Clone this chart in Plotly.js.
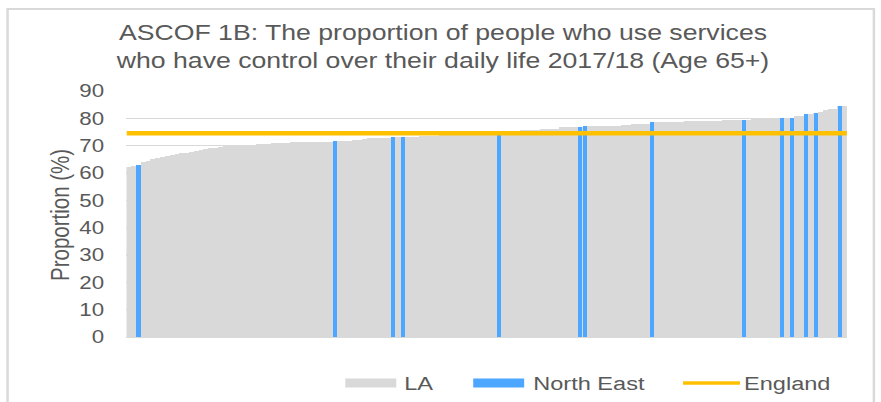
<!DOCTYPE html>
<html>
<head>
<meta charset="utf-8">
<script src="https://cdn.plot.ly/plotly-3.0.1.min.js"></script>
<style>
  html, body { margin: 0; padding: 0; background: #ffffff; overflow: hidden; }
  #chart { transform-origin: 0 0; }
</style>
</head>
<body>
<div id="chart"></div>
<script>
// Local authority results, sorted ascending (%)
const laValues = [
  62.3, 62.5, 63.1, 63.9, 64.5, 65.1, 65.5, 65.9, 66.2, 66.5,
  66.8, 67.2, 67.5, 67.8, 68.1, 68.4, 68.7, 69.0, 69.3, 69.6,
  70.0, 70.2, 70.2, 70.3, 70.3, 70.4, 70.4, 70.5, 70.5, 70.6,
  70.8, 70.9, 71.0, 71.1, 71.2, 71.2, 71.3, 71.3, 71.3, 71.4,
  71.4, 71.4, 71.5, 71.7, 71.7, 71.7, 71.7, 71.9, 72.2, 72.5,
  72.9, 72.9, 72.9, 72.9, 72.9, 73.0, 73.0, 73.0, 73.2, 73.3,
  73.3, 73.4, 73.5, 73.6, 73.7, 73.8, 73.8, 73.9, 74.0, 74.0,
  74.1, 74.2, 74.2, 74.3, 74.3, 74.4, 74.4, 74.5, 74.6, 74.7,
  74.9, 75.2, 75.7, 75.7, 75.7, 75.8, 76.2, 76.2, 76.2, 76.2,
  76.8, 76.8, 76.8, 76.9, 77.0, 77.2, 77.2, 77.2, 77.2, 77.2,
  77.2, 77.2, 77.2, 77.5, 77.5, 77.9, 77.9, 77.9, 78.0, 78.5,
  78.5, 78.7, 78.7, 78.7, 78.7, 78.7, 78.9, 78.9, 78.9, 78.9,
  78.9, 78.9, 78.9, 78.9, 79.4, 79.4, 79.4, 79.4, 79.4, 79.4,
  80.2, 80.2, 80.2, 80.2, 80.2, 80.2, 80.3, 80.3, 80.3, 81.0,
  81.0, 81.7, 81.7, 82.0, 82.5, 83.0, 83.5, 83.5, 84.5, 84.5
];

// Positions (in the sorted list) of the North East authorities
const northEastIdx = [2, 43, 55, 57, 77, 94, 95, 109, 128, 136, 138, 141, 143, 148];

// England average (%)
const englandValue = 74.5;

const seriesNames = ['LA', 'North East', 'England'];
const yTickVals = [0, 10, 20, 30, 40, 50, 60, 70, 80, 90];

const laX = laValues.map((v, i) => i);
const neY = laValues.map((v, i) => northEastIdx.includes(i) ? v : null);

const GREY = '#D9D9D9';
const BLUE = '#4DA6FF';
const GOLD = '#FFC000';
const TEXT = '#595959';
const FONT = 'Liberation Sans, Arial, sans-serif';

// The figure is laid out narrower and widened with a horizontal scale,
// giving the broad lettering of the printed chart.
const S = 1.24;
const W = 881, H = 402;
const chartDiv = document.getElementById('chart');
chartDiv.style.width = (W / S) + 'px';
chartDiv.style.height = H + 'px';
chartDiv.style.transform = 'scaleX(' + S + ')';

// Plot-area edges on the final (widened) page, in pixels
const L = 127, R = 848, T = 91, B = 337;
const px2x = p => (p - L) / (R - L);
const px2y = p => (B - p) / (B - T);

const traces = [
  { type: 'bar', name: seriesNames[0], x: laX, y: laValues,
    marker: { color: GREY, line: { width: 0 } }, width: 1, hoverinfo: 'skip' },
  { type: 'bar', name: seriesNames[1], x: laX, y: neY,
    marker: { color: BLUE, line: { width: 0 } }, width: 0.85, hoverinfo: 'skip' },
  { type: 'scatter', mode: 'lines', name: seriesNames[2],
    x: [-0.5, laValues.length - 0.5], y: [englandValue, englandValue],
    line: { color: GOLD, width: 4.5 }, hoverinfo: 'skip' }
];

// Legend built from shapes + labels (wide swatches)
const legY = 383;
const shapes = [
  { type: 'rect', xref: 'paper', yref: 'paper',
    x0: px2x(346), x1: px2x(397), y0: px2y(378.5), y1: px2y(387.5),
    fillcolor: GREY, line: { width: 0 } },
  { type: 'rect', xref: 'paper', yref: 'paper',
    x0: px2x(474), x1: px2x(525), y0: px2y(378.5), y1: px2y(387.5),
    fillcolor: BLUE, line: { width: 0 } },
  { type: 'line', xref: 'paper', yref: 'paper',
    x0: px2x(684), x1: px2x(741), y0: px2y(legY), y1: px2y(legY),
    line: { color: GOLD, width: 3.5 } },
  // outer frame
  { type: 'rect', xref: 'paper', yref: 'paper',
    x0: px2x(8), x1: px2x(875), y0: px2y(420), y1: px2y(9),
    line: { color: '#D9D9D9', width: 2 }, fillcolor: 'rgba(0,0,0,0)' }
];

const legendFont = { family: FONT, size: 19, color: TEXT };
const annotations = [
  { xref: 'paper', yref: 'paper', x: px2x(403), y: px2y(legY), xanchor: 'left', yanchor: 'middle',
    text: seriesNames[0], showarrow: false, font: legendFont },
  { xref: 'paper', yref: 'paper', x: px2x(532), y: px2y(legY), xanchor: 'left', yanchor: 'middle',
    text: seriesNames[1], showarrow: false, font: legendFont },
  { xref: 'paper', yref: 'paper', x: px2x(743), y: px2y(legY), xanchor: 'left', yanchor: 'middle',
    text: seriesNames[2], showarrow: false, font: legendFont },
  { xref: 'paper', yref: 'paper', x: px2x(60), y: px2y(215), xanchor: 'center', yanchor: 'middle',
    text: 'Proportion (%)', textangle: -90, showarrow: false,
    font: { family: FONT, size: 20.5, color: TEXT } }
];

const layout = {
  width: W / S, height: H,
  margin: { l: L / S, r: (W - R) / S, t: T, b: H - B, pad: 0 },
  paper_bgcolor: '#ffffff', plot_bgcolor: '#ffffff',
  showlegend: false,
  barmode: 'overlay', bargap: 0,
  title: {
    text: 'ASCOF 1B: The proportion of people who use services<br>who have control over their daily life 2017/18 (Age 65+)',
    font: { family: FONT, size: 21.5, color: TEXT },
    x: 443 / W, xanchor: 'center', xref: 'container',
    y: 1 - 40.5 / H, yanchor: 'middle', yref: 'container'
  },
  xaxis: {
    range: [-0.5, laValues.length - 0.5],
    showticklabels: false, ticks: '', showgrid: false, zeroline: false,
    showline: true, linecolor: '#D9D9D9', linewidth: 1, fixedrange: true
  },
  yaxis: {
    range: [0, 90], tickvals: yTickVals, ticktext: yTickVals.map(String),
    showgrid: true, gridcolor: '#D9D9D9', gridwidth: 1.5,
    zeroline: false, showline: false, ticks: '',
    ticklabelstandoff: 17,
    tickfont: { family: FONT, size: 18, color: TEXT }, fixedrange: true
  },
  shapes: shapes,
  annotations: annotations
};

Plotly.newPlot('chart', traces, layout, { displayModeBar: false, staticPlot: true });
</script>
</body>
</html>
